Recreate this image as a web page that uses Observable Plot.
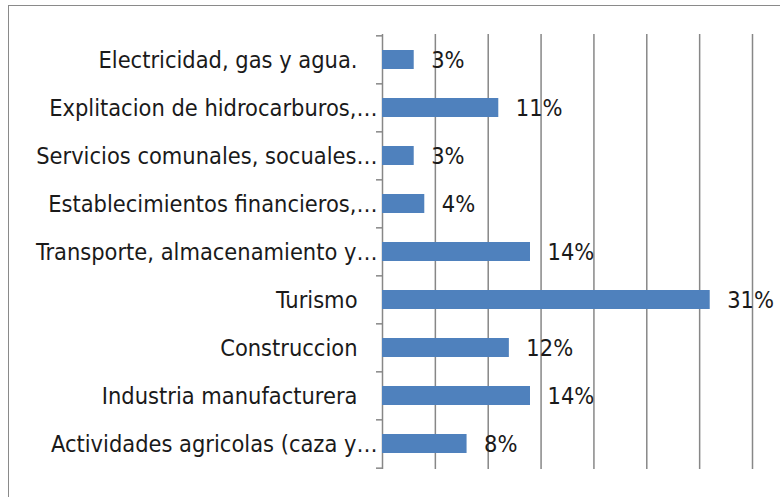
<!DOCTYPE html>
<html><head><meta charset="utf-8">
<script src="https://cdn.jsdelivr.net/npm/d3@7"></script>
<script src="https://cdn.jsdelivr.net/npm/@observablehq/plot@0.6"></script>
<style>
html,body{margin:0;padding:0;background:#fff;overflow:hidden;width:780px;height:497px;}
#frame{position:absolute;left:8px;top:5px;width:800px;height:520px;border:1.5px solid #8a8a8a;box-sizing:border-box;}
#chart{position:absolute;left:0;top:0;}
</style></head><body>
<div id="frame"></div><div id="chart"></div>
<script>
const categories = [
  "Electricidad, gas y agua.",
  "Explitacion de hidrocarburos,…",
  "Servicios comunales, socuales…",
  "Establecimientos financieros,…",
  "Transporte, almacenamiento y…",
  "Turismo",
  "Construccion",
  "Industria manufacturera",
  "Actividades agricolas (caza y…"
];
const values = [3, 11, 3, 4, 14, 31, 12, 14, 8];
const gridTicks = [0, 5, 10, 15, 20, 25, 30, 35];

const data = categories.map((c, i) => ({category: c, value: values[i]}));
const step = (497 - 34 - 28) / categories.length;
const grey = "#878787";

const plot = Plot.plot({
  width: 780, height: 497,
  marginLeft: 382, marginRight: 28, marginTop: 34, marginBottom: 28,
  x: {domain: [0, 35], axis: null},
  y: {domain: categories, paddingInner: 0.6, paddingOuter: 0.3, label: null},
  style: {fontFamily: "'Liberation Sans Narrow', 'DejaVu Sans Condensed', sans-serif", fontSize: "23.4px", color: "#1a1a1a", background: "transparent"},
  marks: [
    Plot.ruleX(gridTicks, {stroke: grey, strokeWidth: 1.5, strokeOpacity: 1}),
    Plot.axisY({tickSize: 6, tickFormat: () => "", label: null, dy: -step / 2, stroke: grey, strokeWidth: 1.5, strokeOpacity: 1}),
    Plot.axisY([categories[categories.length - 1]], {tickSize: 6, tickFormat: () => "", label: null, dy: step / 2, stroke: grey, strokeWidth: 1.5, strokeOpacity: 1}),
    Plot.barX(data, {x: "value", y: "category", fill: "#4f81bd"}),
    Plot.text(data.filter(d => d.category.endsWith("…")), {x: 0, y: "category", text: "category", textAnchor: "end", dx: -5, fill: "#1a1a1a"}),
    Plot.text(data.filter(d => !d.category.endsWith("…")), {x: 0, y: "category", text: "category", textAnchor: "end", dx: -25, fill: "#1a1a1a"}),
    Plot.text(data, {x: "value", y: "category", text: d => d.value + "%", textAnchor: "start", dx: 17, fill: "#1a1a1a"})
  ]
});
document.getElementById("chart").appendChild(plot);
</script>
</body></html>
